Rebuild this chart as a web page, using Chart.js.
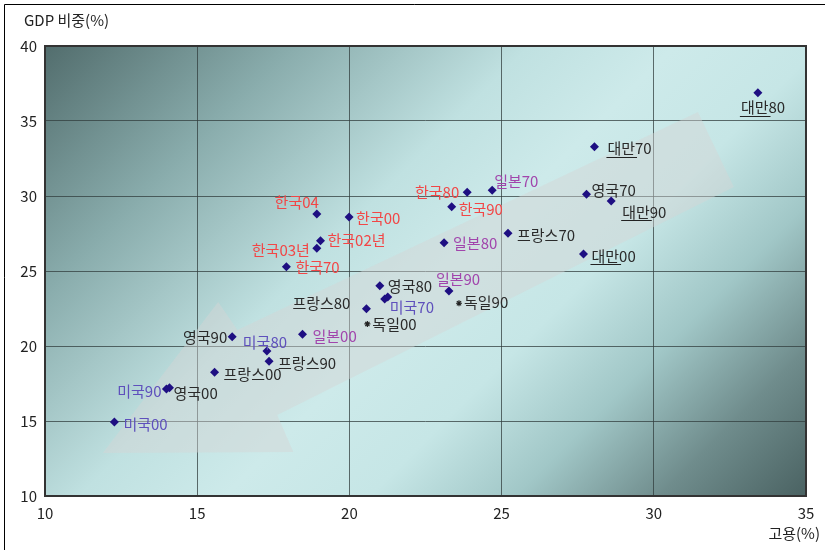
<!DOCTYPE html>
<html>
<head>
<meta charset="utf-8">
<script src="https://cdn.jsdelivr.net/npm/chart.js@4.4.1/dist/chart.umd.min.js"></script>
<style>
  html, body { margin: 0; padding: 0; background: #fff; }
  #wrap { position: relative; width: 825px; height: 550px; }
</style>
</head>
<body>
<div id="wrap"><canvas id="chart"></canvas></div>
<script>
// 고용 비중(x) vs GDP 비중(y), 제조업 (%)
const koreaLabels = ['한국70', '한국80', '한국90', '한국00', '한국02년', '한국03년', '한국04'];
const koreaEmp = [17.93, 23.87, 23.36, 19.99, 19.05, 18.93, 18.93];
const koreaGdp = [25.29, 30.25, 29.29, 28.6, 27.02, 26.51, 28.8];

const japanLabels = ['일본70', '일본80', '일본90', '일본00'];
const japanEmp = [24.69, 23.11, 23.27, 18.46];
const japanGdp = [30.38, 26.89, 23.67, 20.78];

const usLabels = ['미국70', '미국80', '미국90', '미국00', ''];
const usEmp = [21.16, 17.29, 13.99, 12.28, 21.26];
const usGdp = [23.13, 19.67, 17.13, 14.93, 23.27];

const ukLabels = ['영국70', '영국80', '영국90', '영국00'];
const ukEmp = [27.79, 21.0, 16.15, 14.09];
const ukGdp = [30.11, 24.02, 20.62, 17.22];

const franceLabels = ['프랑스70', '프랑스80', '프랑스90', '프랑스00'];
const franceEmp = [25.21, 20.56, 17.36, 15.57];
const franceGdp = [27.51, 22.49, 18.98, 18.25];

const germanyLabels = ['독일90', '독일00'];
const germanyEmp = [23.6, 20.59];
const germanyGdp = [22.85, 21.47];

const taiwanLabels = ['대만70', '대만80', '대만90', '대만00'];
const taiwanEmp = [28.05, 33.42, 28.6, 27.69];
const taiwanGdp = [33.29, 36.89, 29.67, 26.13];

const xTicks = [10, 15, 20, 25, 30, 35];
const yTicks = [10, 15, 20, 25, 30, 35, 40];

// label placement: [align, dx, dy] relative to the point
const labelPos = {
  '한국70': ['left', 9, 1], '한국80': ['right', -8, 0], '한국90': ['left', 7, 3],
  '한국00': ['left', 7, 1], '한국02년': ['left', 7, 0], '한국03년': ['right', -7, 2],
  '한국04': ['right', 2, -12],
  '일본70': ['left', 2, -9], '일본80': ['left', 9, 1], '일본90': ['left', -13, -12],
  '일본00': ['left', 10, 2],
  '미국70': ['left', 5, 8], '미국80': ['center', -2, -9], '미국90': ['right', -5, 2],
  '미국00': ['left', 9, 2],
  '영국70': ['left', 5, -4], '영국80': ['left', 8, 1], '영국90': ['right', -5, 1],
  '영국00': ['left', 4, 6],
  '프랑스70': ['left', 9, 2], '프랑스80': ['right', -16, -5], '프랑스90': ['left', 9, 2],
  '프랑스00': ['left', 9, 2],
  '독일90': ['left', 5, -1], '독일00': ['left', 5, 0],
  '대만70': ['left', 13, 2], '대만80': ['left', -17, 15], '대만90': ['left', 11, 11],
  '대만00': ['left', 8, 2]
};

// big translucent arrow, in data units (tip at lower-left)
const arrowX = [11.9, 15.69, 16.32, 31.45, 32.63, 17.63, 18.16];
const arrowY = [12.87, 22.93, 21.07, 35.6, 30.6, 15.4, 12.93];

const FONT = "'Noto Sans CJK KR', 'Noto Sans', sans-serif";

function pts(xs, ys) {
  return xs.map((x, i) => ({ x: x, y: ys[i] }));
}

function ds(name, labels, xs, ys, color, style) {
  return {
    label: name,
    data: pts(xs, ys),
    names: labels,
    textColor: color,
    pointStyle: style || 'rectRot',
    pointRadius: style === 'star' ? 3 : 4.5,
    pointBackgroundColor: '#1e0f82',
    pointBorderColor: style === 'star' ? '#222' : '#1e0f82',
    pointBorderWidth: style === 'star' ? 1.2 : 0,
    showLine: false
  };
}

const bgPlugin = {
  id: 'bg',
  beforeDraw(chart) {
    const { ctx, chartArea: a } = chart;
    const s = ((a.right - a.left) + (a.bottom - a.top)) / 2;
    const g = ctx.createLinearGradient(a.left, a.top, a.left + s, a.top + s);
    g.addColorStop(0, '#526d6d');
    g.addColorStop(0.2, '#88abab');
    g.addColorStop(0.4, '#c0e1e1');
    g.addColorStop(0.52, '#cdeaea');
    g.addColorStop(0.64, '#c6e6e6');
    g.addColorStop(0.76, '#a1c7c7');
    g.addColorStop(0.88, '#6f8c8c');
    g.addColorStop(1, '#4a6262');
    ctx.save();
    ctx.fillStyle = g;
    ctx.fillRect(a.left, a.top, a.right - a.left, a.bottom - a.top);
    // outer frame
    ctx.strokeStyle = '#000';
    ctx.lineWidth = 1;
    ctx.beginPath();
    ctx.moveTo(4.5, chart.height);
    ctx.lineTo(4.5, 4.5);
    ctx.lineTo(chart.width, 4.5);
    ctx.stroke();
    ctx.restore();
  },
  beforeDatasetsDraw(chart) {
    const { ctx, scales } = chart;
    ctx.save();
    ctx.fillStyle = 'rgba(212,212,212,0.45)';
    ctx.beginPath();
    arrowX.forEach((v, i) => {
      const px = scales.x.getPixelForValue(v);
      const py = scales.y.getPixelForValue(arrowY[i]);
      if (i === 0) ctx.moveTo(px, py); else ctx.lineTo(px, py);
    });
    ctx.closePath();
    ctx.fill();
    ctx.restore();
  },
  afterDatasetsDraw(chart) {
    const { ctx, chartArea: a } = chart;
    ctx.save();
    ctx.strokeStyle = '#333';
    ctx.lineWidth = 2;
    ctx.strokeRect(a.left, a.top, a.right - a.left, a.bottom - a.top);

    ctx.font = '15px ' + FONT;
    ctx.textBaseline = 'middle';
    chart.data.datasets.forEach((d, di) => {
      const meta = chart.getDatasetMeta(di);
      meta.data.forEach((el, i) => {
        const name = d.names[i];
        if (!name) return;
        const [align, dx, dy] = labelPos[name];
        const tx = el.x + dx, ty = el.y + dy;
        ctx.fillStyle = d.textColor;
        ctx.textAlign = align;
        ctx.fillText(name, tx, ty);
        if (name.startsWith('대만')) {
          const w = ctx.measureText('대만').width;
          ctx.strokeStyle = '#222';
          ctx.lineWidth = 1;
          ctx.beginPath();
          ctx.moveTo(tx - 1, Math.round(ty + 8) + 0.5);
          ctx.lineTo(tx + w + 2, Math.round(ty + 8) + 0.5);
          ctx.stroke();
        }
      });
    });

    // axis titles
    ctx.fillStyle = '#222';
    ctx.textAlign = 'left';
    ctx.fillText('GDP 비중(%)', 24, 20);
    ctx.textAlign = 'right';
    ctx.fillText('고용(%)', 820, 533);
    ctx.restore();
  }
};

new Chart(document.getElementById('chart'), {
  type: 'scatter',
  data: {
    datasets: [
      ds('한국', koreaLabels, koreaEmp, koreaGdp, '#f24646'),
      ds('일본', japanLabels, japanEmp, japanGdp, '#a145ac'),
      ds('미국', usLabels, usEmp, usGdp, '#5e50bc'),
      ds('영국', ukLabels, ukEmp, ukGdp, '#2a2a2a'),
      ds('프랑스', franceLabels, franceEmp, franceGdp, '#2a2a2a'),
      ds('독일', germanyLabels, germanyEmp, germanyGdp, '#2a2a2a', 'star'),
      ds('대만', taiwanLabels, taiwanEmp, taiwanGdp, '#2a2a2a')
    ]
  },
  options: {
    responsive: true,
    maintainAspectRatio: false,
    animation: false,
    events: [],
    layout: { padding: { top: 46, right: 19, left: 0, bottom: 0 } },
    plugins: {
      legend: { display: false },
      tooltip: { enabled: false }
    },
    scales: {
      x: {
        type: 'linear',
        min: 10,
        max: 35,
        afterBuildTicks: (s) => { s.ticks = xTicks.map(v => ({ value: v })); },
        afterFit: (s) => { s.height = 54; },
        grid: { color: 'rgba(50,62,62,0.75)', lineWidth: 1, drawTicks: false },
        border: { display: false },
        ticks: { padding: 8, color: '#222', font: { family: FONT, size: 15 } }
      },
      y: {
        type: 'linear',
        min: 10,
        max: 40,
        afterBuildTicks: (s) => { s.ticks = yTicks.map(v => ({ value: v })); },
        afterFit: (s) => { s.width = 45; },
        grid: { color: 'rgba(50,62,62,0.75)', lineWidth: 1, drawTicks: false },
        border: { display: false },
        ticks: { padding: 8, color: '#222', font: { family: FONT, size: 15 } }
      }
    }
  },
  plugins: [bgPlugin]
});
</script>
</body>
</html>
